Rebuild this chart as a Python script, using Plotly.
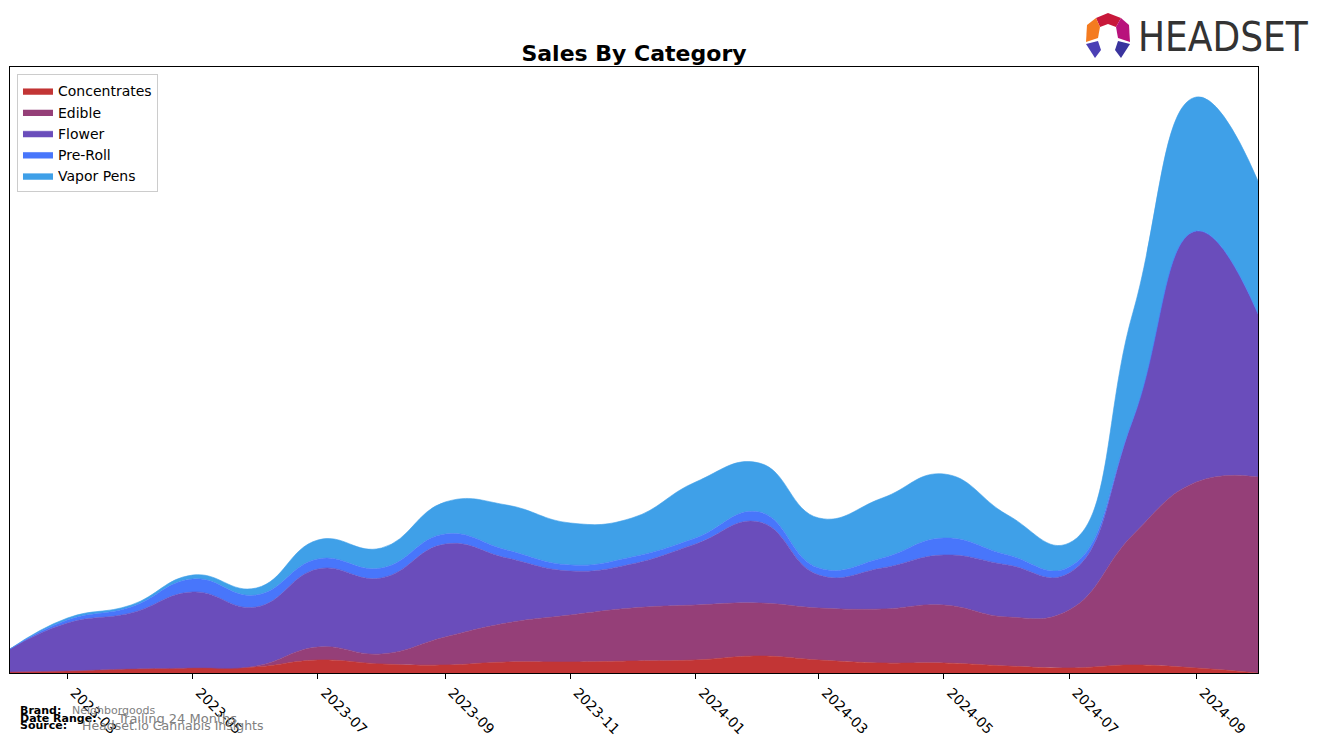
import plotly.graph_objects as go

months = ["2023-02-01", "2023-03-01", "2023-04-01", "2023-05-01", "2023-06-01", "2023-07-01",
          "2023-08-01", "2023-09-01", "2023-10-01", "2023-11-01", "2023-12-01", "2024-01-01",
          "2024-02-01", "2024-03-01", "2024-04-01", "2024-05-01", "2024-06-01", "2024-07-01",
          "2024-08-01", "2024-09-01", "2024-10-01"]

concentrates = [1, 2, 4, 5, 6, 13, 9, 8, 11, 11, 12, 13, 17, 13, 10, 10, 7, 5, 8, 5, 0]
edible = [0, 0, 0, 0, 1, 13, 10, 28, 39, 47, 53, 55, 53, 52, 54, 58, 49, 58, 130, 186, 196]
flower = [23, 48, 56, 76, 59, 78, 76, 93, 65, 44, 44, 61, 81, 33, 41, 50, 52, 37, 115, 251, 163]
preroll = [0, 3, 6, 13, 12, 10, 10, 10, 8, 6, 7, 6, 10, 7, 10, 17, 10, 6, 0, 0, 0]
vapor = [0, 2, 2, 4, 7, 19, 20, 32, 45, 42, 39, 56, 49, 50, 60, 64, 40, 24, 107, 134, 133]

series = [
    ("Concentrates", concentrates, "#C23535"),
    ("Edible", edible, "#953F78"),
    ("Flower", flower, "#6A4DBB"),
    ("Pre-Roll", preroll, "#4876FB"),
    ("Vapor Pens", vapor, "#3FA0E8"),
]

fig = go.Figure()
for name, vals, color in series:
    fig.add_trace(go.Scatter(
        x=months, y=vals, name=name, mode="lines",
        stackgroup="one", line=dict(width=0.6, color=color, shape="spline", smoothing=1.3),
        fillcolor=color,
    ))

# Page body has an 8px margin; figure sized/offset so plot area sits at x 10-1258, y 67-673
fig.update_layout(
    width=1314, height=735,
    margin=dict(l=2, r=64, t=59, b=70),
    paper_bgcolor="white", plot_bgcolor="white",
    font=dict(family="DejaVu Sans", size=13, color="black"),
    title=dict(text="<b>Sales By Category</b>", xref="paper", x=0.5, xanchor="center",
               y=0.9388, yanchor="middle", font=dict(size=22, family="DejaVu Sans")),
    showlegend=True,
    legend=dict(x=0.0056, y=0.988, xanchor="left", yanchor="top", bgcolor="white",
                bordercolor="#cccccc", borderwidth=1, font=dict(size=14),
                traceorder="normal", itemwidth=30),
    xaxis=dict(range=["2023-02-01", "2024-10-01"], showgrid=False, zeroline=False,
               tickformat="%Y-%m", dtick="M2", tick0="2023-03-01", tickangle=45,
               ticks="outside", ticklen=5, tickcolor="black", showline=True, linecolor="black",
               linewidth=1, mirror=True, tickfont=dict(size=14), ticklabelshift=7),
    yaxis=dict(range=[0, 606], showgrid=False, zeroline=False, showticklabels=False,
               ticks="", showline=True, linecolor="black", linewidth=1, mirror=True),
)

def px_x(px):
    return (px - 10) / 1248

def px_y(py):
    return (673 - py) / 606

# Footer text
footer = [
    (18, 710, "<b>Brand:</b>", 11, "black"),
    (70, 710, "Neighborgoods", 11, "gray"),
    (18, 718, "<b>Date Range:</b>", 11, "black"),
    (115, 718, "Trailing 24 Months", 13, "gray"),
    (18, 725, "<b>Source:</b>", 11, "black"),
    (80, 725, "Headset.io Cannabis Insights", 12.5, "gray"),
]
for fx, fy, txt, sz, col in footer:
    fig.add_annotation(xref="paper", yref="paper", x=px_x(fx), y=px_y(fy), xanchor="left",
                       yanchor="middle", text=txt, showarrow=False,
                       font=dict(size=sz, color=col))

# Logo
fig.add_annotation(xref="paper", yref="paper", x=px_x(1311), y=px_y(37), xanchor="right",
                   yanchor="middle", text="HEADSET", showarrow=False,
                   font=dict(size=40, color="#333333",
                             family="Liberation Sans Narrow, DejaVu Sans Condensed"))
logo_polys = [
    ([(1096, 18), (1108, 13), (1121, 18), (1116, 27), (1108, 24), (1100, 27)], "#C8183A"),
    ([(1096, 18), (1100, 27), (1098, 38), (1086, 42), (1087, 25)], "#F47B20"),
    ([(1121, 18), (1129, 25), (1130, 42), (1118, 38), (1116, 27)], "#B8127C"),
    ([(1086, 44), (1098, 41), (1101, 50), (1095, 58)], "#4B3FB5"),
    ([(1130, 44), (1118, 41), (1115, 50), (1121, 58)], "#3A349E"),
]
for pts, col in logo_polys:
    path = "M " + " L ".join(f"{px_x(a):.5f},{px_y(b):.5f}" for a, b in pts) + " Z"
    fig.add_shape(type="path", xref="paper", yref="paper", path=path,
                  fillcolor=col, line=dict(width=0))

fig.write_html("out.html")
